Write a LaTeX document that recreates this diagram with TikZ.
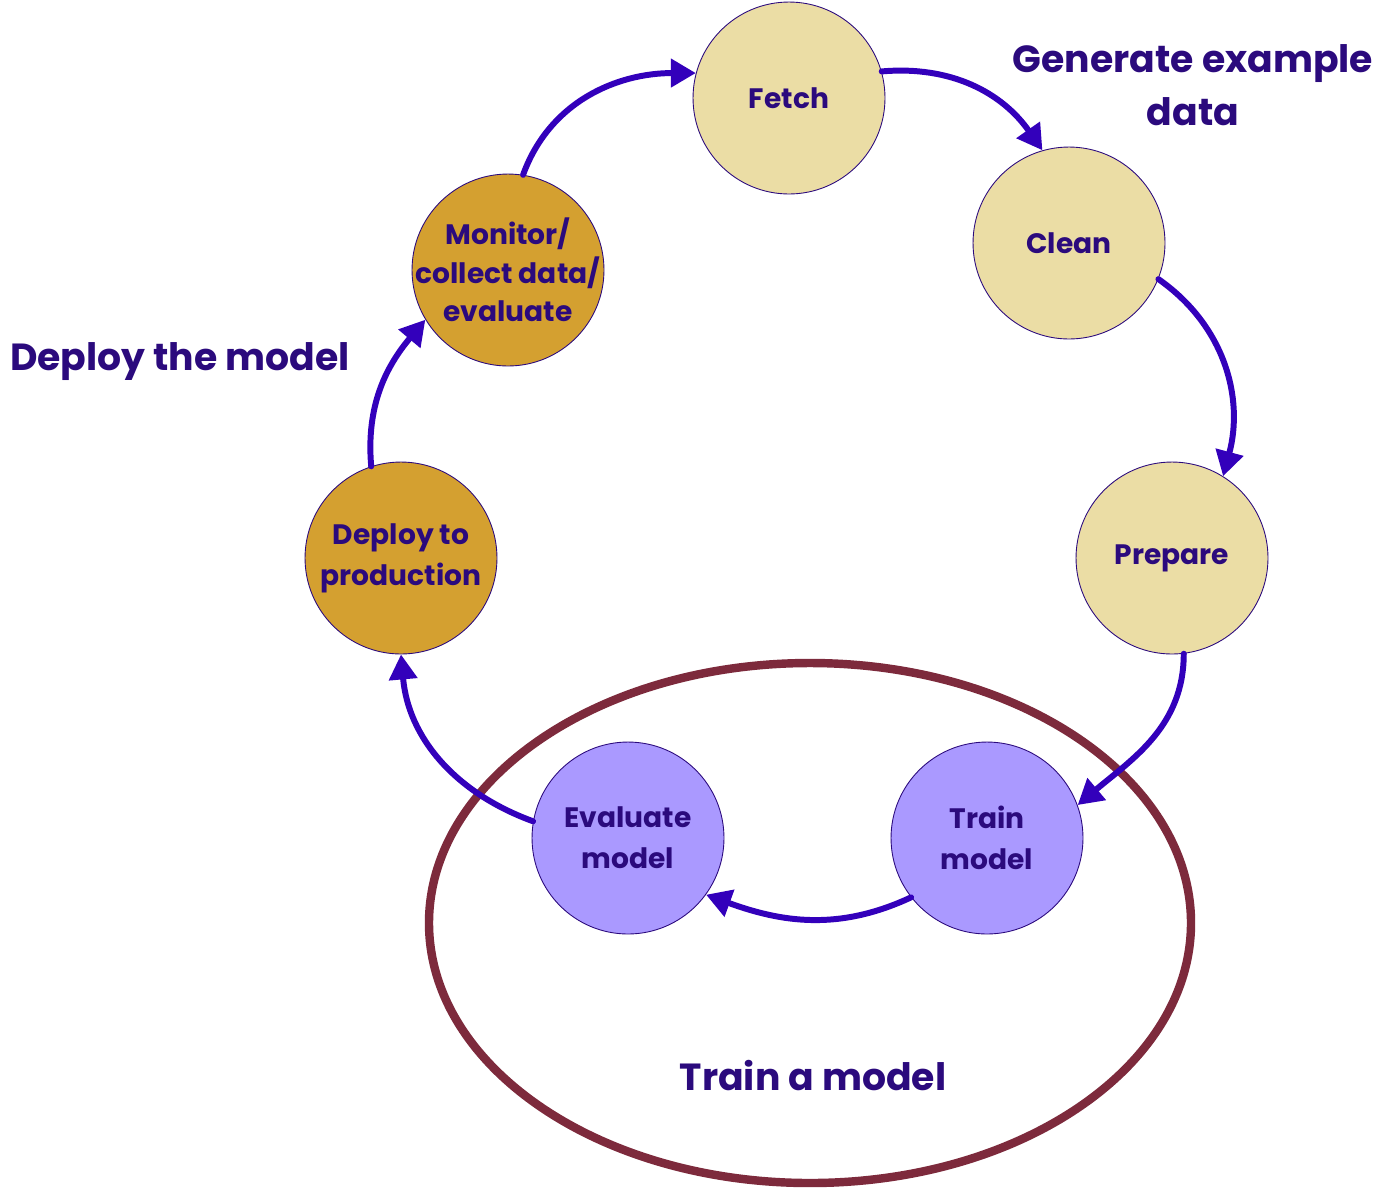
\documentclass[tikz,border=0pt]{standalone}
\usepackage{fontspec}
\setmainfont{Poppins}
\usetikzlibrary{arrows.meta}

\definecolor{txt}{HTML}{2B0A7D}
\definecolor{arrcol}{HTML}{3300BB}
\definecolor{genfill}{HTML}{EBDDA5}
\definecolor{depfill}{HTML}{D4A030}
\definecolor{trnfill}{HTML}{AA99FF}
\definecolor{ringcol}{HTML}{7D2A3C}

\begin{document}
\begin{tikzpicture}[
    x=0.02cm, y=0.02cm,
    every node/.style={text=txt},
    stage/.style={circle, draw=txt, line width=0.5pt, minimum size=3.84cm, inner sep=0pt,
        align=center, font=\bfseries\fontsize{16}{23.2}\selectfont},
    gen/.style={stage, fill=genfill},
    dep/.style={stage, fill=depfill},
    trn/.style={stage, fill=trnfill},
    heading/.style={align=center, font=\bfseries\fontsize{21.5}{30}\selectfont},
    arr/.style={-{Triangle[length=5mm, width=5.5mm]}, line width=3.4pt, draw=arrcol, line cap=round}
]
    \useasboundingbox (0,0) rectangle (1391,-1188);

    % Training ring
    \draw[ringcol, line width=4.8pt] (810,-923) ellipse [x radius=381, y radius=260];

    % Stages
    \node[gen] (fetch) at (789,-98) {Fetch};
    \node[gen] (clean) at (1069,-243) {Clean};
    \node[gen] (prep) at (1172,-558) {Prepare};
    \node[trn] (train) at (987,-838) {Train\\model};
    \node[trn] (eval) at (628,-838) {Evaluate\\model};
    \node[dep] (deploy) at (401,-558) {Deploy to\\production};
    \node[dep, inner sep=-5pt, font=\bfseries\fontsize{16}{22}\selectfont] (monitor) at (508,-270) {Monitor/\\collect data/\\evaluate};

    % Headings
    \node[heading] (genlbl) at (1193,-85) {Generate example\\data};
    \node[heading] (deplbl) at (180,-362) {Deploy the model};
    \node[heading] (trnlbl) at (813,-1075) {Train a model};

    % Arrows
    \draw[arr] (monitor.81) to[out=70, in=180] (fetch.165);
    \draw[arr] (fetch.16) to[out=5, in=125] (clean.106);
    \draw[arr] (clean.-22) to[out=-35, in=75] (prep.58);
    \draw[arr] (prep.-83) to[out=-90, in=40] (train.20);
    \draw[arr] (train.218) to[out=-155, in=-20] (eval.-36);
    \draw[arr] (eval.170) to[out=160, in=-85] (deploy.-90);
    \draw[arr] (deploy.108) to[out=95, in=-130] (monitor.211);
\end{tikzpicture}
\end{document}
